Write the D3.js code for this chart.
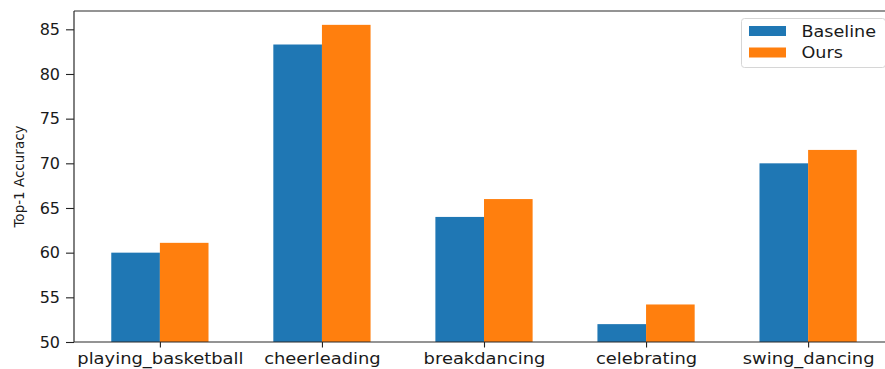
<!DOCTYPE html>
<html>
<head>
<meta charset="utf-8">
<script src="https://cdn.jsdelivr.net/npm/d3@7"></script>
<style>
  html, body { margin: 0; padding: 0; background: #fff; }
  svg { display: block; }
  text { font-family: "DejaVu Sans", sans-serif; fill: #1a1a1a; }
</style>
</head>
<body>
<svg id="chart" width="885" height="369"></svg>
<script>
// Per-class Top-1 accuracy, baseline vs. our method
const categories = ["playing_basketball", "cheerleading", "breakdancing", "celebrating", "swing_dancing"];
const baseline = [60.0, 83.3, 64.0, 52.0, 70.0];
const ours = [61.1, 85.5, 66.0, 54.2, 71.5];
const seriesNames = ["Baseline", "Ours"];
const yTicks = [50, 55, 60, 65, 70, 75, 80, 85];

const colors = ["#1f77b4", "#ff7f0e"];
const barWidth = 0.3;

const svg = d3.select("#chart");
const margin = { left: 74, top: 11, right: 894, bottom: 342 };

// category index axis with the default 5% padding around the bar extent
const x = d3.scaleLinear().domain([-0.53, 4.53]).range([margin.left, margin.right]);
const y = d3.scaleLinear().domain([50, 87.05]).range([margin.bottom, margin.top]);

const series = [baseline, ours];

// bars
series.forEach((vals, s) => {
  svg.append("g").selectAll("rect")
    .data(vals)
    .join("rect")
    .attr("x", (d, i) => x(i + (s === 0 ? -barWidth : 0)))
    .attr("width", x(barWidth) - x(0))
    .attr("y", d => y(d))
    .attr("height", d => y(50) - y(d))
    .attr("fill", colors[s]);
});

// x axis
const xAxis = svg.append("g")
  .attr("transform", `translate(0,${margin.bottom})`)
  .call(d3.axisBottom(x).tickValues(d3.range(categories.length))
    .tickFormat(i => categories[i]).tickSize(5.5).tickPadding(5));
xAxis.select(".domain").remove();
xAxis.selectAll(".tick line").attr("stroke", "#222").attr("stroke-width", 1.1);
xAxis.selectAll(".tick text")
  .attr("font-size", 16)
  .attr("fill", "#1a1a1a")
  .attr("font-family", "DejaVu Sans")
  .each(function () {
    const t = d3.select(this);
    const tx = +t.attr("x") || 0;
    t.attr("transform", "scale(1.12,1)");
  });

// y axis
const yAxis = svg.append("g")
  .attr("transform", `translate(${margin.left},0)`)
  .call(d3.axisLeft(y).tickValues(yTicks).tickSize(8).tickPadding(6));
yAxis.select(".domain").remove();
yAxis.selectAll(".tick line").attr("stroke", "#222").attr("stroke-width", 1.1);
yAxis.selectAll(".tick text")
  .attr("font-size", 16)
  .attr("fill", "#1a1a1a")
  .attr("font-family", "DejaVu Sans");

// spines: left, bottom, top (right spine lies past the canvas edge)
const spine = svg.append("g").attr("stroke", "#2b2b2b").attr("stroke-width", 1.2).attr("fill", "none");
spine.append("line").attr("x1", margin.left).attr("x2", margin.left).attr("y1", margin.top).attr("y2", margin.bottom);
spine.append("line").attr("x1", margin.left).attr("x2", margin.right).attr("y1", margin.bottom).attr("y2", margin.bottom);
spine.append("line").attr("x1", margin.left).attr("x2", margin.right).attr("y1", margin.top).attr("y2", margin.top);
spine.append("line").attr("x1", margin.right).attr("x2", margin.right).attr("y1", margin.top).attr("y2", margin.bottom);

// y label
svg.append("text")
  .attr("transform", `translate(24,${(margin.top + margin.bottom) / 2}) rotate(-90)`)
  .attr("text-anchor", "middle")
  .attr("font-size", 13.5)
  .text("Top-1 Accuracy");

// legend
const legend = svg.append("g").attr("transform", "translate(741.5,18.5)");
legend.append("rect")
  .attr("width", 144).attr("height", 49)
  .attr("rx", 3).attr("ry", 3)
  .attr("fill", "#fff").attr("fill-opacity", 0.8)
  .attr("stroke", "#d6d6d6").attr("stroke-width", 1);
seriesNames.forEach((name, i) => {
  const row = legend.append("g").attr("transform", `translate(0,${i * 21.5})`);
  row.append("rect")
    .attr("x", 7.5).attr("y", 7.5).attr("width", 37).attr("height", 10)
    .attr("fill", colors[i]);
  row.append("text")
    .attr("x", 60).attr("y", 18.5)
    .attr("font-size", 16)
    .attr("transform", "translate(-6,0) scale(1.1,1)")
    .text(name);
});
</script>
</body>
</html>
